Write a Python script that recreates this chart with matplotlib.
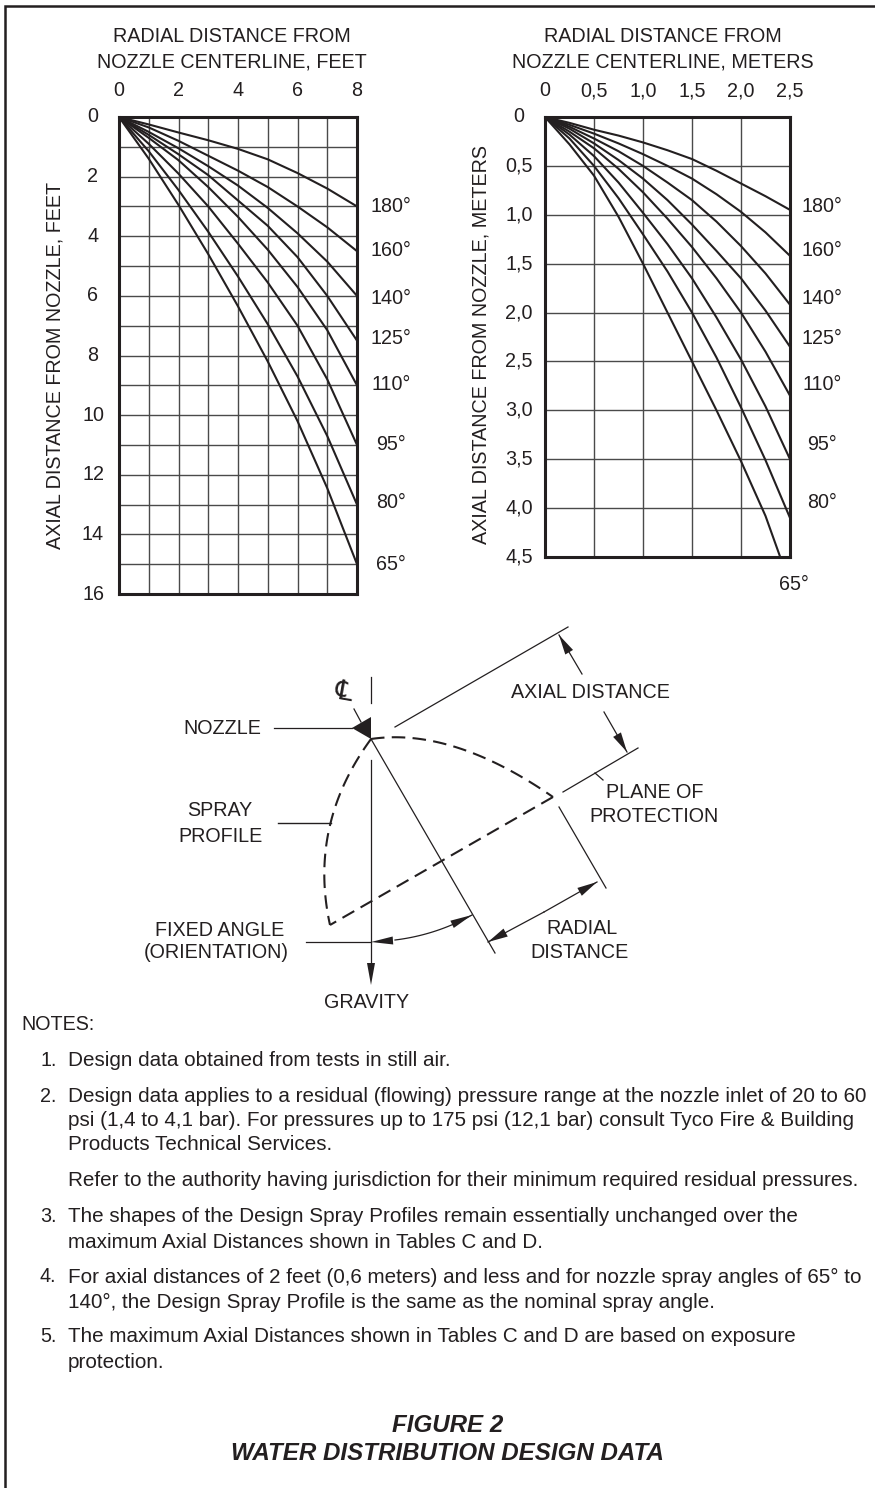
import numpy as np
import matplotlib
matplotlib.use('Agg')
import matplotlib.pyplot as plt
from matplotlib.patches import Polygon

plt.rcParams['font.family'] = ['Liberation Sans', 'DejaVu Sans']

W, H = 875, 1488
TXT = '#231f20'
FS = 14.2

# curves in feet
angulos = ['180°', '160°', '140°', '125°', '110°', '95°', '80°', '65°']
x_pes = [0, 1, 2, 3, 4, 5, 6, 7, 8]
y_pes_180 = [0, 0.25, 0.52, 0.78, 1.07, 1.42, 1.88, 2.4, 3.0]
y_pes_160 = [0, 0.35, 0.8, 1.3, 1.8, 2.35, 3.0, 3.7, 4.5]
y_pes_140 = [0, 0.5, 1.05, 1.65, 2.3, 3.05, 3.9, 4.85, 6.0]
y_pes_125 = [0, 0.6, 1.25, 1.95, 2.8, 3.65, 4.7, 6.0, 7.5]
y_pes_110 = [0, 0.7, 1.45, 2.35, 3.35, 4.45, 5.7, 7.15, 9.0]
y_pes_95 = [0, 0.9, 1.9, 3.0, 4.25, 5.55, 7.0, 8.8, 11.0]
y_pes_80 = [0, 1.15, 2.45, 3.85, 5.35, 6.95, 8.7, 10.7, 13.0]
y_pes_65 = [0, 1.4, 2.95, 4.6, 6.35, 8.2, 10.2, 12.45, 15.0]
series_pes = [y_pes_180, y_pes_160, y_pes_140, y_pes_125, y_pes_110, y_pes_95, y_pes_80, y_pes_65]

# curves in meters
x_m = [0, 0.25, 0.5, 0.75, 1.0, 1.25, 1.5, 1.75, 2.0, 2.25, 2.5]
y_m_180 = [0, 0.06, 0.13, 0.19, 0.26, 0.34, 0.43, 0.55, 0.68, 0.81, 0.95]
y_m_160 = [0, 0.08, 0.17, 0.27, 0.38, 0.50, 0.63, 0.79, 0.97, 1.18, 1.42]
y_m_140 = [0, 0.10, 0.22, 0.35, 0.50, 0.67, 0.85, 1.07, 1.32, 1.60, 1.92]
y_m_125 = [0, 0.12, 0.27, 0.44, 0.63, 0.85, 1.10, 1.37, 1.65, 1.98, 2.35]
y_m_110 = [0, 0.15, 0.32, 0.53, 0.77, 1.04, 1.33, 1.65, 2.0, 2.40, 2.85]
y_m_95 = [0, 0.18, 0.40, 0.67, 0.98, 1.30, 1.65, 2.05, 2.48, 2.96, 3.5]
y_m_80 = [0, 0.22, 0.50, 0.83, 1.2, 1.58, 2.0, 2.46, 2.97, 3.51, 4.1]
x_m_65 = [0, 0.25, 0.5, 0.75, 1.0, 1.25, 1.5, 1.75, 2.0, 2.25, 2.4]
y_m_65 = [0, 0.28, 0.6, 1.02, 1.5, 2.0, 2.5, 3.0, 3.52, 4.08, 4.5]
series_m = [y_m_180, y_m_160, y_m_140, y_m_125, y_m_110, y_m_95, y_m_80]

xticks_pes = [0, 2, 4, 6, 8]
yticks_pes = [0, 2, 4, 6, 8, 10, 12, 14, 16]
xticks_m = [0, 0.5, 1.0, 1.5, 2.0, 2.5]
yticks_m = [0, 0.5, 1.0, 1.5, 2.0, 2.5, 3.0, 3.5, 4.0, 4.5]


def virgula(v):
    return '0' if v == 0 else f'{v:.1f}'.replace('.', ',')


fig = plt.figure(figsize=(W / 100, H / 100), dpi=100)
bg = fig.add_axes([0, 0, 1, 1])
bg.set_xlim(0, W)
bg.set_ylim(H, 0)
bg.axis('off')


def px_axes(l, r, t, b):
    return fig.add_axes([l / W, 1 - b / H, (r - l) / W, (b - t) / H])


def grafico(ax, xlim, ylim, gx, gy):
    ax.set_xlim(*xlim)
    ax.set_ylim(ylim[1], ylim[0])
    ax.set_xticks(gx)
    ax.set_yticks(gy)
    ax.grid(True, color='#4a4a4a', lw=1.0)
    ax.tick_params(length=0, labelbottom=False, labelleft=False)
    for s in ax.spines.values():
        s.set_linewidth(2.2)
        s.set_color(TXT)
    ax.set_axisbelow(True)


L1, R1, T1, B1 = 119, 357, 117, 594
L2, R2, T2, B2 = 545, 790, 117, 557

# feet chart
ax1 = px_axes(L1, R1, T1, B1)
grafico(ax1, (0, 8), (0, 16), range(0, 9), range(0, 17))
for ys in series_pes:
    ax1.plot(x_pes, ys, color=TXT, lw=1.5)
for v in xticks_pes:
    bg.text(L1 + v * (R1 - L1) / 8, 91, str(v), ha='center', va='center', fontsize=FS, color=TXT)
for v in yticks_pes:
    bg.text(93, T1 + v * (B1 - T1) / 16, str(v), ha='center', va='center', fontsize=FS, color=TXT)
ylab = [206, 250, 299, 339, 385, 444, 503, 564]
for lab, ly in zip(angulos, ylab):
    bg.text(391, ly, lab, ha='center', va='center', fontsize=FS, color=TXT)

# meters chart
ax2 = px_axes(L2, R2, T2, B2)
grafico(ax2, (0, 2.5), (0, 4.5), xticks_m, yticks_m)
for ys in series_m:
    ax2.plot(x_m, ys, color=TXT, lw=1.5)
ax2.plot(x_m_65, y_m_65, color=TXT, lw=1.5)
for v in xticks_m:
    bg.text(L2 + v * (R2 - L2) / 2.5, 91, virgula(v), ha='center', va='center', fontsize=FS, color=TXT)
for v in yticks_m:
    bg.text(519, T2 + v * (B2 - T2) / 4.5, virgula(v), ha='center', va='center', fontsize=FS, color=TXT)
for lab, ly in zip(angulos[:7], ylab):
    bg.text(822, ly, lab, ha='center', va='center', fontsize=FS, color=TXT)
bg.text(794, 585, angulos[7], ha='center', va='center', fontsize=FS, color=TXT)

# chart titles
bg.text(232, 37, 'RADIAL DISTANCE FROM', ha='center', va='center', fontsize=FS, color=TXT)
bg.text(232, 62, 'NOZZLE CENTERLINE, FEET', ha='center', va='center', fontsize=FS, color=TXT)
bg.text(663, 37, 'RADIAL DISTANCE FROM', ha='center', va='center', fontsize=FS, color=TXT)
bg.text(663, 62, 'NOZZLE CENTERLINE, METERS', ha='center', va='center', fontsize=FS, color=TXT)
bg.text(55, 365, 'AXIAL DISTANCE FROM NOZZLE, FEET', rotation=90, ha='center', va='center', fontsize=FS, color=TXT)
bg.text(481, 345, 'AXIAL DISTANCE FROM NOZZLE, METERS', rotation=90, ha='center', va='center', fontsize=FS, color=TXT)


# spray diagram
def linha(x0, y0, x1, y1, lw=0.9):
    bg.plot([x0, x1], [y0, y1], color=TXT, lw=lw)


def ponta(x0, y0, x1, y1, comp=20, larg=4.5):
    # filled arrow head with its tip at x1, y1
    d = np.array([x1 - x0, y1 - y0], dtype=float)
    d = d / np.hypot(*d)
    n = np.array([-d[1], d[0]])
    tip = np.array([x1, y1])
    base = tip - d * comp
    bg.add_patch(Polygon([tip, base + n * larg, base - n * larg], closed=True, color=TXT, lw=0))


def seta(x0, y0, x1, y1):
    linha(x0, y0, x1, y1)
    ponta(x0, y0, x1, y1)


def bezier(p0, p1, p2, **kw):
    t = np.linspace(0, 1, 80)
    c = np.outer((1 - t) ** 2, p0) + np.outer(2 * t * (1 - t), p1) + np.outer(t ** 2, p2)
    bg.plot(c[:, 0], c[:, 1], color=TXT, **kw)


tr = dict(lw=1.5, dashes=(6.5, 3.5))
bezier((371, 739), (452, 727), (553, 797), **tr)
bezier((371, 739), (308, 825), (330, 925), **tr)
bg.plot([553, 330], [797, 925], color=TXT, **tr)
bg.add_patch(Polygon([[371, 717], [371, 739], [352, 728]], closed=True, color=TXT, lw=0))

linha(371, 677, 371, 703)
linha(371, 760, 371, 970)
ponta(371, 960, 371, 985, comp=22, larg=4)
linha(371, 739, 495, 953)
linha(395, 727, 568, 627)
linha(559, 807, 606, 888)
linha(563, 792, 638, 748)
linha(274, 728, 352, 728)
linha(278, 823, 331, 823, lw=1.0)
linha(306, 942, 371, 942)
linha(354, 709, 361, 722)
linha(595, 773, 603, 780)

seta(582, 674, 559, 635)
seta(604, 712, 627, 752)
seta(544, 912, 597, 882)
seta(544, 912, 488, 942)
bezier((395, 940), (436, 935), (472, 915), lw=0.9)
ponta(400, 940, 371, 942, comp=22, larg=4)
ponta(440, 930, 472, 915, comp=22, larg=4)
bg.text(344, 692, '\u2104', fontsize=20, ha='center', va='center', color=TXT, family=['DejaVu Sans'], rotation=-10)

rotulos = [('NOZZLE', 222, 728), ('SPRAY', 220, 811), ('PROFILE', 221, 836),
           ('FIXED ANGLE', 220, 930), ('(ORIENTATION)', 216, 953), ('GRAVITY', 367, 1003),
           ('AXIAL DISTANCE', 590, 693), ('PLANE OF', 655, 793), ('PROTECTION', 654, 817),
           ('RADIAL', 582, 928), ('DISTANCE', 580, 952)]
for tx, x0, y0 in rotulos:
    bg.text(x0, y0, tx, ha='center', va='center', fontsize=FS, color=TXT)

# notes
bg.text(21, 1024, 'NOTES:', fontsize=FS, color=TXT, va='center')
notas = [
    (1061, '1.', 'Design data obtained from tests in still air.'),
    (1096, '2.', 'Design data applies to a residual (flowing) pressure range at the nozzle inlet of 20 to 60'),
    (1121, '', 'psi (1,4 to 4,1 bar). For pressures up to 175 psi (12,1 bar) consult Tyco Fire & Building'),
    (1145, '', 'Products Technical Services.'),
    (1181, '', 'Refer to the authority having jurisdiction for their minimum required residual pressures.'),
    (1217, '3.', 'The shapes of the Design Spray Profiles remain essentially unchanged over the'),
    (1242, '', 'maximum Axial Distances shown in Tables C and D.'),
    (1277, '4.', 'For axial distances of 2 feet (0,6 meters) and less and for nozzle spray angles of 65° to'),
    (1302, '', '140°, the Design Spray Profile is the same as the nominal spray angle.'),
    (1337, '5.', 'The maximum Axial Distances shown in Tables C and D are based on exposure'),
    (1362, '', 'protection.'),
]
for y, n, s in notas:
    if n:
        bg.text(40, y, n, fontsize=FS, color=TXT, va='center')
    bg.text(68, y, s, fontsize=14.9, color=TXT, va='center')

bg.text(448, 1426, 'FIGURE 2', ha='center', va='center', fontsize=17.4, style='italic', weight='bold', color=TXT)
bg.text(447, 1453, 'WATER DISTRIBUTION DESIGN DATA', ha='center', va='center', fontsize=17.4,
        style='italic', weight='bold', color=TXT)

# page frame
bg.plot([5, 5, W], [H, 6, 6], color=TXT, lw=1.8, solid_joinstyle='miter')

fig.savefig('out.png', dpi=100)
